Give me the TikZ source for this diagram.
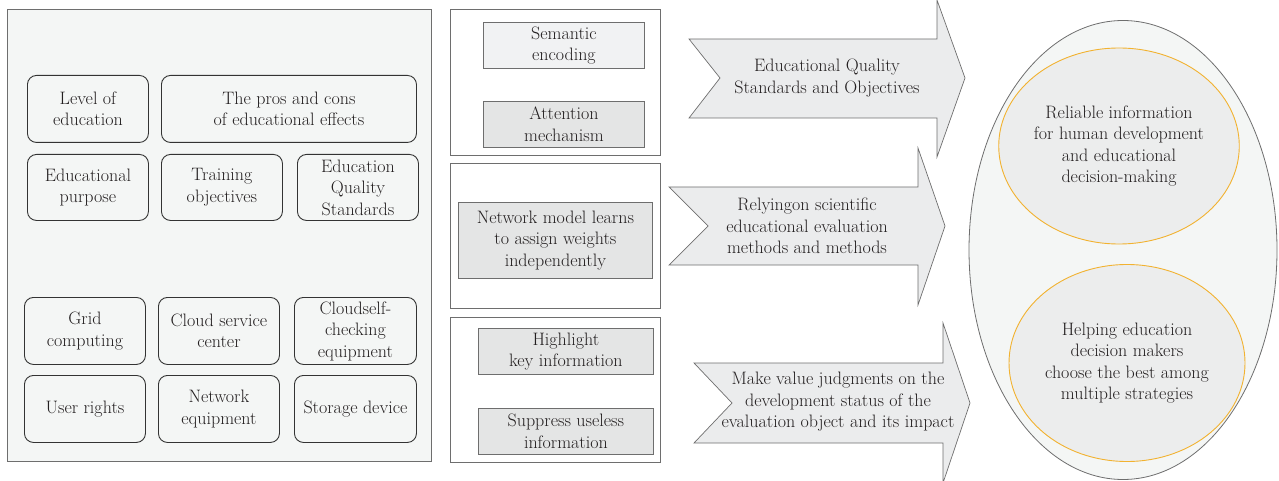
\documentclass[tikz,border=0pt]{standalone}
\usetikzlibrary{shapes.geometric}
\definecolor{panel}{HTML}{F4F6F5}
\definecolor{boxgray}{HTML}{E4E5E5}
\definecolor{boxlight}{HTML}{F1F2F3}
\definecolor{arrowgray}{HTML}{EBECED}
\definecolor{ringorange}{HTML}{F2B230}
\definecolor{edge}{HTML}{6E6E6E}
\definecolor{ink}{HTML}{231F20}
\tikzset{%
  item/.style={%
    rectangle,%
    draw=black!80,%
    line width=0.9pt,%
    rounded corners=9pt,%
    fill=panel,%
    align=center,%
    inner sep=0pt,%
    anchor=north west},
  module/.style={%
    rectangle,%
    draw=edge,%
    line width=0.8pt,%
    fill=white,%
    anchor=north west},
  part/.style={%
    rectangle,%
    draw=edge,%
    line width=0.8pt,%
    fill=boxgray,%
    align=center,%
    inner sep=0pt,%
    anchor=north west},
  flow/.style={%
    draw=edge,%
    line width=0.7pt,%
    fill=arrowgray,%
    line join=miter},
  goal/.style={%
    ellipse,%
    draw=ringorange,%
    line width=0.9pt,%
    fill=boxgray!70,%
    align=center,%
    inner sep=0pt}
}

\begin{document}
\begin{tikzpicture}[x=1pt,y=-1pt,every
        node/.style={font=\fontsize{18}{21.5}\selectfont,text=ink}]
  \useasboundingbox (0,0) rectangle (1279,481);
  % left panel
  \node [draw=edge,line width=0.9pt,fill=panel,anchor=north west,
         minimum width=424pt,minimum height=452pt] (panel) at (7,9) {};
  \node [item,minimum width=121pt,minimum height=67pt] (level) at (27,75) {Level of\\education};
  \node [item,minimum width=255pt,minimum height=67pt] (pros) at (161,75) {The pros and cons\\of educational effects};
  \node [item,minimum width=121pt,minimum height=66pt] (purpose) at (27,154) {Educational\\purpose};
  \node [item,minimum width=121pt,minimum height=66pt] (training) at (161,154) {Training\\objectives};
  \node [item,minimum width=121pt,minimum height=66pt] (standards) at (297,154) {Education\\Quality\\Standards};
  \node [item,minimum width=121pt,minimum height=67pt] (grid) at (24,297) {Grid\\computing};
  \node [item,minimum width=121pt,minimum height=67pt] (cloud) at (158,297) {Cloud service\\center};
  \node [item,minimum width=122pt,minimum height=67pt] (selfcheck) at (294,297) {Cloudself-\\checking\\equipment};
  \node [item,minimum width=121pt,minimum height=67pt] (rights) at (24,375) {User rights};
  \node [item,minimum width=121pt,minimum height=67pt] (network) at (158,375) {Network\\equipment};
  \node [item,minimum width=122pt,minimum height=67pt] (storage) at (294,375) {Storage device};
  % middle modules
  \node [module,minimum width=210pt,minimum height=146pt] (attn) at (450,9) {};
  \node [part,fill=boxlight,minimum width=161pt,minimum height=46pt] (semantic) at (483,22) {Semantic\\encoding};
  \node [part,minimum width=161pt,minimum height=46pt] (mech) at (483,101) {Attention\\mechanism};
  \node [module,minimum width=210pt,minimum height=145pt] (learn) at (450,163) {};
  \node [part,minimum width=194pt,minimum height=76pt] (weights) at (458,202) {Network model learns\\to assign weights\\independently};
  \node [module,minimum width=210pt,minimum height=145pt] (filter) at (450,317) {};
  \node [part,minimum width=175pt,minimum height=46pt] (highlight) at (478,328) {Highlight\\key information};
  \node [part,minimum width=175pt,minimum height=46pt] (suppress) at (478,408) {Suppress useless\\information};
  % arrows
  \draw [flow] (689,39) -- (937,39) -- (937,0) -- (965,78) -- (937,157)
    -- (937,118) -- (689,118) -- (720,78) -- cycle;
  \node [align=center] (quality) at (827,78) {Educational Quality\\Standards and Objectives};
  \draw [flow] (669,187) -- (918,187) -- (918,148) -- (945,226) -- (918,305)
    -- (918,265) -- (669,265) -- (708,226) -- cycle;
  \node [align=center] (methods) at (807,226) {Relyingon scientific\\educational evaluation\\methods and methods};
  \draw [flow] (694,363) -- (943,363) -- (943,323) -- (970,403) -- (943,483)
    -- (943,443) -- (694,443) -- (732,403) -- cycle;
  \node [align=center,inner sep=0pt] (judgment) at (838,402) {Make value judgments on the\\development status of the\\evaluation object and its impact};
  % outcomes
  \node [ellipse,draw=edge,line width=0.8pt,fill=panel,
         minimum width=308pt,minimum height=459pt] (outcome) at (1123,250) {};
  \node [goal,minimum width=236pt,minimum height=196pt] (reliable) at (1119,146) {Reliable information\\for human development\\and educational\\decision-making};
  \node [goal,minimum width=236pt,minimum height=197pt] (helping) at (1127,363) {Helping education\\decision makers\\choose the best among\\multiple strategies};
\end{tikzpicture}
\end{document}
